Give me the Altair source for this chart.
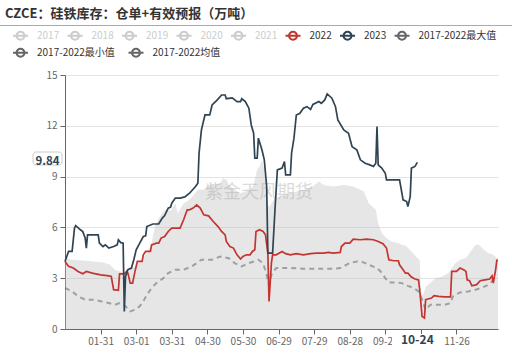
import altair as alt
import pandas as pd

FONT = "Noto Sans CJK SC"

title_text = "CZCE：硅铁库存：仓单+有效预报（万吨）"
watermark = "紫金天风期货"

# legend row 1 and row 2
series_row1 = ["2017", "2018", "2019", "2020", "2021", "2022", "2023", "2017-2022最大值"]
colors_row1 = ["#cccccc"] * 5 + ["#c23531", "#2f4554", "#666666"]
series_row2 = ["2017-2022最小值", "2017-2022均值"]
colors_row2 = ["#666666", "#666666"]
inactive_series = ["2017", "2018", "2019", "2020", "2021"]

# x = day of year (0 = 01-01, leap-year calendar); the 10-27 label sits under the pointer label
tick_days = [30, 60, 90, 120, 150, 180, 210, 240, 270, 300, 330]
tick_labels = ["01-31", "03-01", "03-31", "04-30", "05-30", "06-29",
               "07-29", "08-28", "09-27", "", "11-26"]
y_ticks = [0, 3, 6, 9, 12, 15]

pointer_day = 297
pointer_label = "10-24"
pointer_value = 9.84

s2023 = [(0, 3.99), (3, 4.58), (6, 4.58), (8, 5.96), (9, 6.1), (13, 5.86), (15, 5.75), (17, 5.37),
         (18, 4.78), (19, 5.56), (28, 5.56), (29, 5.07), (32, 4.87), (34, 4.97), (37, 4.78),
         (41, 4.87), (44, 4.97), (45, 5.27), (47, 5.1), (49, 5.07), (50, 1.04), (51, 3.1),
         (53, 3.5), (56, 3.6), (58, 4.09), (60, 4.68), (63, 5.07), (66, 5.46), (68, 5.5),
         (69, 6.05), (74, 6.2), (79, 6.2), (82, 6.55), (84, 6.7), (87, 7.14), (89, 7.2),
         (90, 7.43), (93, 7.73), (97, 7.73), (101, 7.8), (105, 8.02), (110, 8.41), (112, 8.61),
         (113, 10.38), (115, 11.76), (118, 12.64), (122, 12.64), (124, 13.23), (128, 13.5),
         (132, 13.82), (135, 13.82), (136, 13.6), (141, 13.65), (145, 13.43), (148, 13.43),
         (149, 13.6), (152, 13.43), (155, 13.04), (157, 12.05), (159, 11.56), (160, 10.09),
         (162, 10.09), (163, 11.27), (166, 10.58), (168, 9.99), (170, 8.41), (171, 4.48),
         (175, 4.48), (177, 7.04), (179, 9.4), (183, 9.5), (185, 9.89), (186, 9.1), (190, 9.1),
         (191, 10.38), (193, 11.27), (195, 12.64), (198, 12.74), (201, 13.04), (204, 13.13),
         (207, 12.97), (209, 13.26), (214, 13.43), (216, 13.33), (219, 13.53), (221, 13.88),
         (225, 13.63), (228, 13.13), (230, 12.35), (235, 11.76), (239, 11.56), (242, 10.77),
         (246, 10.58), (249, 9.99), (253, 9.79), (257, 9.69), (260, 9.6), (262, 9.79),
         (263, 11.95), (264, 9.69), (267, 9.5), (270, 9.2), (271, 8.81), (282, 8.81),
         (284, 8.02), (285, 7.63), (288, 7.53), (289, 7.23), (291, 7.82), (292, 9.5),
         (295, 9.6), (297, 9.84)]

s2022 = [(0, 3.99), (3, 3.7), (7, 3.6), (11, 3.4), (15, 3.26), (18, 3.4), (23, 3.3), (30, 3.2),
         (37, 3.14), (39, 3.1), (41, 2.32), (45, 2.28), (46, 3.26), (50, 3.26), (52, 3.4),
         (53, 3.3), (55, 2.71), (57, 2.71), (59, 3.4), (61, 3.99), (65, 3.99), (66, 4.38),
         (68, 4.58), (72, 4.58), (73, 4.97), (77, 5.07), (79, 5.07), (81, 5.37), (84, 5.46),
         (87, 5.76), (90, 5.96), (97, 5.96), (100, 6.45), (103, 7.04), (105, 7.04), (108, 7.14),
         (111, 7.33), (114, 7.14), (117, 6.74), (121, 6.68), (125, 6.35), (129, 6.05),
         (132, 5.76), (135, 5.56), (136, 5.17), (139, 4.87), (142, 4.78), (145, 4.38),
         (148, 4.13), (150, 4.28), (153, 4.38), (156, 4.38), (158, 4.58), (160, 4.68),
         (161, 5.76), (164, 5.86), (167, 5.76), (169, 5.56), (171, 4.48), (172, 1.63),
         (174, 3.9), (175, 4.38), (178, 4.38), (183, 4.58), (186, 4.45), (190, 4.38),
         (195, 4.45), (201, 4.38), (207, 4.45), (212, 4.48), (218, 4.48), (222, 4.52),
         (226, 4.48), (232, 4.52), (233, 4.87), (236, 5.07), (240, 5.07), (243, 5.31),
         (249, 5.27), (254, 5.31), (260, 5.27), (264, 5.17), (268, 5.04), (271, 4.78),
         (273, 4.09), (277, 4.03), (281, 4.03), (282, 3.79), (285, 3.5), (287, 3.3), (289, 3.3),
         (292, 3.07), (295, 2.95), (298, 2.9), (299, 2.32), (301, 0.74), (303, 0.65),
         (304, 1.73), (306, 1.77), (309, 1.83), (311, 1.97), (315, 1.93), (320, 1.9), (325, 1.9),
         (326, 3.4), (330, 3.4), (333, 3.6), (336, 3.5), (338, 3.4), (339, 2.9), (341, 2.85),
         (343, 2.55), (347, 2.62), (350, 2.85), (354, 2.9), (358, 2.95), (360, 3.14),
         (361, 2.71), (363, 3.5), (364, 4.05), (365, 4.05)]

s_mean = [(0, 2.42), (6, 2.22), (11, 1.93), (17, 1.73), (24, 1.73), (31, 1.63), (37, 1.53),
          (42, 1.43), (46, 1.53), (51, 1.34), (55, 1.04), (59, 1.14), (63, 1.34), (66, 1.63),
          (69, 2.02), (73, 2.42), (77, 2.71), (83, 3.01), (87, 3.3), (93, 3.5), (100, 3.5),
          (107, 3.7), (115, 4.09), (124, 4.09), (131, 4.28), (138, 4.18), (143, 3.89),
          (149, 3.7), (155, 3.89), (159, 3.99), (163, 4.09), (167, 3.89), (170, 3.2),
          (172, 2.6), (174, 3.2), (178, 3.6), (190, 3.6), (201, 3.56), (226, 3.56), (232, 3.6),
          (240, 3.89), (246, 3.99), (250, 3.99), (256, 3.79), (263, 3.6), (266, 3.4),
          (270, 3.01), (273, 2.75), (278, 2.75), (284, 2.71), (289, 2.55), (294, 2.42),
          (298, 2.22), (301, 1.73), (304, 1.14), (308, 1.43), (320, 1.43), (325, 1.53),
          (327, 1.93), (333, 2.16), (340, 2.22), (346, 2.32), (351, 2.42), (357, 2.62),
          (361, 2.9), (365, 3.0)]

s_max = [(0, 4.19), (7, 4.09), (15, 4.05), (24, 3.99), (32, 3.93), (38, 3.79), (42, 3.5),
         (46, 3.4), (51, 3.3), (55, 3.5), (59, 3.7), (63, 3.95), (70, 4.6), (73, 5.07),
         (76, 6.15), (80, 6.64), (84, 7.04), (89, 7.0), (93, 7.43), (95, 6.84), (100, 7.43),
         (103, 7.53), (107, 7.8), (112, 8.22), (117, 8.22), (121, 8.51), (125, 8.51),
         (131, 8.61), (133, 8.9), (136, 8.81), (139, 8.41), (143, 8.22), (148, 8.02),
         (152, 8.12), (156, 8.22), (159, 8.51), (162, 9.4), (164, 9.6), (166, 9.99), (168, 9.4),
         (170, 7.6), (172, 7.2), (176, 7.63), (183, 7.9), (190, 8.02), (201, 8.22), (209, 8.41),
         (214, 8.71), (218, 8.51), (226, 8.41), (235, 8.51), (243, 8.41), (249, 8.22),
         (252, 8.12), (256, 7.43), (259, 7.24), (262, 7.04), (263, 6.64), (264, 6.25),
         (267, 5.66), (271, 5.37), (275, 5.17), (281, 5.07), (288, 4.87), (292, 4.58),
         (297, 4.19), (299, 4.09), (300, 2.2), (302, 2.0), (304, 2.5), (308, 2.71), (312, 3.0),
         (318, 3.1), (323, 3.3), (329, 3.89), (333, 4.09), (338, 4.19), (342, 4.58), (346, 4.97),
         (349, 4.97), (353, 4.68), (357, 4.48), (361, 4.38), (364, 4.19), (365, 4.19)]


def frame(pairs, name):
    return pd.DataFrame({"day": [p[0] for p in pairs], "value": [p[1] for p in pairs], "series": name})


df_lines = pd.concat([frame(s2022, "2022"), frame(s2023, "2023")], ignore_index=True)
df_mean = frame(s_mean, "2017-2022均值")
df_max = frame(s_max, "2017-2022最大值")

label_expr = "[" + ",".join(f"'{t}'" for t in tick_labels) + "][indexof([" + \
    ",".join(str(d) for d in tick_days) + "], datum.value)]"

x_scale = alt.Scale(domain=[0, 365], nice=False, zero=False)
y_scale = alt.Scale(domain=[0, 15], nice=False)

x_enc = alt.X("day:Q", scale=x_scale, axis=alt.Axis(
    values=tick_days, labelExpr=label_expr, title=None, grid=False,
    domainColor="#666666", tickColor="#666666", tickSize=5, labelColor="#666666",
    labelFont=FONT, labelFontSize=10, labelPadding=2, labelFlush=False, labelOverlap=False, zindex=0))
y_enc = alt.Y("value:Q", scale=y_scale, axis=alt.Axis(
    values=y_ticks, title=None, grid=True, gridColor="#e3e3e3",
    domainColor="#666666", tickColor="#666666", tickSize=5, labelColor="#666666",
    labelFont=FONT, labelFontSize=10, labelPadding=3, zindex=0))

SYMBOL = "M-1,0L1,0M0.53,0A0.53,0.53,0,1,1,-0.53,0A0.53,0.53,0,1,1,0.53,0Z"
inactive_js = "[" + ",".join(f"'{s}'" for s in inactive_series) + "]"


def make_legend(y, scale_name, label_color, col_pad):
    return alt.Legend(
        orient="none", legendX=-53, legendY=y, direction="horizontal",
        title=None, symbolType=SYMBOL, symbolSize=225, symbolStrokeWidth=2, symbolOpacity=1,
        symbolFillColor={"expr": f"scale('{scale_name}', datum.value)"},
        labelFont=FONT, labelFontSize=10, labelOffset=8, columnPadding=col_pad,
        labelColor=label_color, labelLimit=0)


legend1 = make_legend(-48, "color",
                      {"expr": f"indexof({inactive_js}, datum.value) >= 0 ? '#cccccc' : '#333333'"}, 3.5)
legend2 = make_legend(-31, "stroke", "#333333", 9.5)

area = alt.Chart(df_max).mark_area(color="#c0c0c0", opacity=0.4).encode(x=x_enc, y=y_enc)

mean_line = alt.Chart(df_mean).mark_line(strokeWidth=2, strokeDash=[5, 4], strokeOpacity=0.55).encode(
    x="day:Q", y="value:Q",
    stroke=alt.Stroke("series:N", scale=alt.Scale(domain=series_row2, range=colors_row2), legend=legend2))

lines = alt.Chart(df_lines).mark_line(strokeWidth=1.7).encode(
    x="day:Q", y="value:Q",
    color=alt.Color("series:N", scale=alt.Scale(domain=series_row1, range=colors_row1), legend=legend1))

one = pd.DataFrame({"t": [title_text]})
title = alt.Chart(one).mark_text(align="left", baseline="middle", fontSize=13, fontWeight="bold",
                                 font=FONT, color="#333333").encode(
    x=alt.value(-60), y=alt.value(-61.5), text="t:N")
title_rule = alt.Chart(one).mark_rule(color="#aaaaaa", strokeWidth=1).encode(
    x=alt.value(-65), x2=alt.value(447), y=alt.value(-49.5))

wm = alt.Chart(pd.DataFrame({"t": [watermark]})).mark_text(
    fontSize=18, font=FONT, color="#999999", opacity=0.35, baseline="middle", align="center").encode(
    x=alt.value(194), y=alt.value(118), text="t:N")

ptr_df = pd.DataFrame({"day": [pointer_day], "value": [pointer_value],
                       "lab": [pointer_label], "val": [f"{pointer_value:.2f}"]})
x_box = alt.Chart(ptr_df).mark_rect(fill="white").encode(
    x=alt.value(327), x2=alt.value(377), y=alt.value(259), y2=alt.value(279))
x_lab = alt.Chart(ptr_df).mark_text(fontSize=12, fontWeight="bold", font=FONT, color="#2f4554",
                                    baseline="middle").encode(
    x="day:Q", y=alt.value(264.5), text="lab:N")
y_box = alt.Chart(ptr_df).mark_rect(fill="white", stroke="#cccccc", strokeWidth=1, cornerRadius=3).encode(
    x=alt.value(-32), x2=alt.value(-3), y=alt.value(77), y2=alt.value(90))
y_lab = alt.Chart(ptr_df).mark_text(fontSize=11.5, fontWeight="bold", font=FONT, color="#2f4554",
                                    baseline="middle").encode(
    x=alt.value(-17.5), y="value:Q", text="val:N")

chart = alt.layer(area, wm, mean_line, lines, title, title_rule, x_box, x_lab, y_box, y_lab).properties(
    width=433, height=254,
    padding={"left": 65, "top": 75, "right": 14, "bottom": 26},
    autosize=alt.AutoSizeParams(type="none"),
    background="white",
).resolve_scale(color="independent", stroke="independent").configure_view(stroke=None)

chart.save("out.html", embed_options={"renderer": "svg", "actions": False})
